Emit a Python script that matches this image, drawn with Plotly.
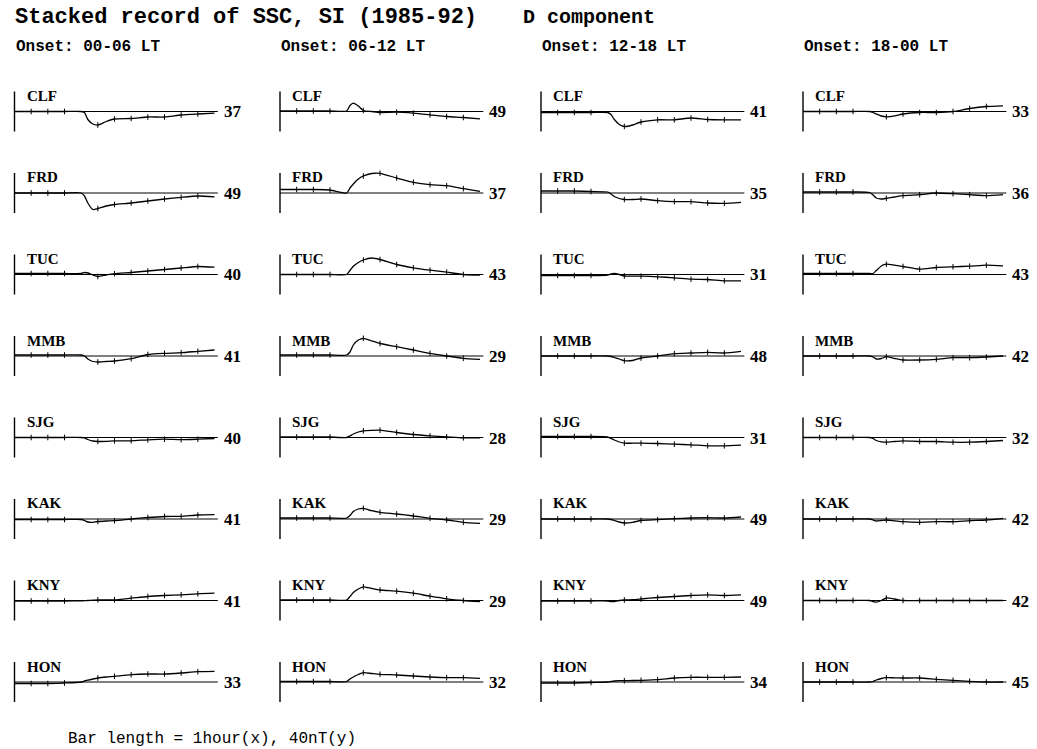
import plotly.graph_objects as go

# ---- data -------------------------------------------------------------
STATIONS = ["CLF", "FRD", "TUC", "MMB", "SJG", "KAK", "KNY", "HON"]
ONSET_LT = ["00-06", "06-12", "12-18", "18-00"]

# minutes relative to SSC onset
T_MIN = [-40, -30, -20, -10, 0, 2, 4, 7, 10, 15, 20, 30, 40, 50, 60, 70, 80]
TICK_MIN = [-30, -20, -10, 10, 20, 30, 40, 50, 60, 70]

# stacked D-component deviation (nT), one list per station
D_00_06 = [
    [0, 0, 0, 0, 0, -1, -8, -12.5, -13.5, -10, -7.5, -7, -5.5, -5.5, -3.5, -2.5, -1.7],
    [0, 0, 0, 0, 0, -3, -10, -16.5, -15.5, -13, -11.5, -10, -8, -6, -4.3, -3, -3.8],
    [1, 1, 1, 1, 1, 2, 1.5, -0.5, -2, -0.5, 0.8, 2, 3.5, 5, 6.5, 8, 7.3],
    [1, 1, 1, 1, 1, 0, -3, -5.5, -6, -5.5, -5, -2.7, 1.5, 2.7, 3.3, 4.7, 6],
    [0, 0, 0, 0, 0, -0.5, -2, -3.5, -4, -3.8, -3.3, -3.3, -2.3, -1.7, -2.2, -1.7, -1],
    [-0.5, -0.5, -0.5, -0.5, -0.5, -1.5, -3, -3.3, -2.5, -2, -1.7, 0, 1.5, 2.5, 2.7, 4, 4.3],
    [-0.5, -0.5, -0.5, -0.5, -0.3, -0.2, 0, 0.3, 0.7, 0.7, 0.7, 2.3, 4, 5, 5.7, 6.7, 7.3],
    [-1.5, -1.5, -1.5, -1, 0, 1, 1.8, 3, 4, 5, 5.7, 7.3, 8, 8, 9, 10.3, 10.7],
]
D_06_12 = [
    [0.5, 0.5, 0.5, 0.5, 0.5, 6, 8.3, 5.5, 1, 0, -1, -0.7, -1.7, -3.3, -5, -6, -7.3],
    [3.5, 3.5, 3.5, 3, 0, 5, 9, 14, 17, 19.5, 19.7, 15, 10.7, 8.3, 7.3, 4.3, 1.7],
    [0, 0, 0, 0, 0, 4, 8.3, 12, 14.5, 16.5, 15, 10, 6.7, 4.3, 2.3, 0, -0.7],
    [1, 1, 1, 1, 1, 4, 11, 16, 17.7, 15, 12.5, 9.3, 6, 2.7, 0, -2.3, -3.3],
    [0.5, 0.5, 0.5, 0.5, 0, 1.5, 3.5, 5.5, 6.7, 7.2, 7.3, 5, 3, 1.7, 0.7, -0.3, -0.3],
    [1, 1, 1, 1, 1, 3.5, 7.5, 10, 10.7, 8.3, 6.7, 5, 3, 0.7, -1, -3.3, -4.3],
    [0.5, 0.5, 0.5, 0.5, 0.5, 4, 8, 11.5, 13.7, 12, 10.5, 9.3, 7.3, 4.3, 1.7, 0, -1],
    [0.5, 0.5, 0.5, 0.5, 0.5, 3, 5, 7.5, 9.3, 8.5, 7.7, 7, 6, 5, 4.3, 4.3, 3.7],
]
D_12_18 = [
    [-1, -1, -1, -1, -1, -3, -8, -13, -15, -13.5, -10.5, -8.3, -8.3, -6.5, -8, -8.3, -8.3],
    [2, 2, 2, 1.5, 1, -1, -3.5, -5.5, -6.5, -6.5, -6, -7.7, -8.7, -8.7, -10, -10.3, -9.3],
    [-1, -1, -1, -1, -0.5, 0.5, 1, 0, -1.5, -1.7, -1.7, -2.3, -3.3, -4.7, -5, -6.3, -6.3],
    [0, 0, 0, 0, 0, -0.5, -1.5, -3, -4.7, -4.5, -2, 0, 2.3, 3, 3.7, 3, 4.7],
    [1, 1, 1, 1, 0.5, -1, -2.5, -4.5, -5.7, -5.7, -5.7, -6, -6.7, -7.3, -8.3, -8.3, -7.7],
    [0, 0, 0, 0, 0, -0.5, -1.5, -3, -4, -3.3, -1.5, -0.7, 0.3, 1, 1.3, 1, 2],
    [-0.5, -0.5, -0.5, -0.5, -0.5, -1, -1, 0, 0.5, 0.8, 1.5, 3, 4, 5, 5.7, 5, 5.7],
    [-1, -1, -1, -0.5, 0, 0.5, 1, 1.3, 1.3, 1.5, 1.7, 2.3, 4, 4.7, 4.7, 4.7, 5],
]
D_18_00 = [
    [0, 0, 0, 0, 0, -1, -2.5, -4.5, -5.3, -4.3, -2.5, -1, -1, 0, 3, 5, 5.7],
    [1, 1, 1, 1, 0.5, -2, -5, -6, -5.3, -4, -2.7, -1.7, 0, -0.7, -1.7, -2.7, -1.7],
    [1, 1, 1, 1, 1, 1, 4, 8.5, 10.3, 9.3, 8, 5.3, 7, 7.7, 8.3, 9.3, 8.7],
    [0, 0, 0, 0, 0, -1, -3, -2.5, -0.7, -2.5, -4, -4, -3.3, -1.7, -1.7, -1, 0],
    [0, 0, 0, 0, 0, -1, -3, -4.3, -4.7, -4, -3.3, -4, -4, -4.7, -4.7, -4, -3],
    [0, 0, 0, 0, 0, -1, -2, -1.5, -1, -1.8, -2.7, -3.3, -2.7, -2.7, -1.7, -1, 0.7],
    [0, 0, 0, 0, 0, -1, -1.7, 0, 2.5, 1.5, 0, 0, 0, 0, 0, 0, 0],
    [0, 0, 0, 0, 0, 0.5, 2, 3.5, 4.3, 4.2, 4, 4, 2.7, 1.7, 0.7, 0, 0],
]

# number of events stacked at each station
N_00_06 = [37, 49, 40, 41, 40, 41, 41, 33]
N_06_12 = [49, 37, 43, 29, 28, 29, 29, 32]
N_12_18 = [41, 35, 31, 48, 31, 49, 49, 34]
N_18_00 = [33, 36, 43, 42, 32, 42, 42, 45]

SCALE_BAR_NT = 40
BASELINE_END_MIN = 82

COLUMNS = [(D_00_06, N_00_06), (D_06_12, N_06_12),
           (D_12_18, N_12_18), (D_18_00, N_18_00)]

# ---- page geometry (pixels) ---------------------------------------------
W, H = 1037, 749
BAR_PX = [14.5, 280, 541, 803]      # left edge (scale bar) of each column
ROW0_PX, ROW_STEP = 111.5, 81.5     # zero line of first row, row spacing
PX_PER_MIN = 5 / 3
PAD_L, PAD_R, HALF_H = 5, 215, 30   # panel extent around the scale bar

SERIF = "Liberation Serif"
MONO = "Liberation Mono"

fig = go.Figure()
layout_axes = {}
annotations = []

for c, (series, counts) in enumerate(COLUMNS):
    for r, station in enumerate(STATIONS):
        n = r * 4 + c + 1
        xa, ya = f"x{n}", f"y{n}"
        base = ROW0_PX + r * ROW_STEP
        x0_min = T_MIN[0] - PAD_L / PX_PER_MIN
        x1_min = T_MIN[0] + PAD_R / PX_PER_MIN
        layout_axes[f"xaxis{n}"] = dict(
            domain=[(BAR_PX[c] - PAD_L) / W, (BAR_PX[c] + PAD_R) / W],
            range=[x0_min, x1_min], visible=False, anchor=ya, fixedrange=True)
        layout_axes[f"yaxis{n}"] = dict(
            domain=[1 - (base + HALF_H) / H, 1 - (base - HALF_H) / H],
            range=[-HALF_H, HALF_H], visible=False, anchor=xa, fixedrange=True)

        vals = series[r]
        # zero reference line
        fig.add_trace(go.Scatter(
            x=[T_MIN[0], BASELINE_END_MIN], y=[0, 0], xaxis=xa, yaxis=ya,
            mode="lines", line=dict(color="black", width=1),
            hoverinfo="skip", showlegend=False))
        # 40 nT scale bar
        fig.add_trace(go.Scatter(
            x=[T_MIN[0], T_MIN[0]], y=[-SCALE_BAR_NT / 2, SCALE_BAR_NT / 2],
            xaxis=xa, yaxis=ya, mode="lines",
            line=dict(color="black", width=1.4),
            hoverinfo="skip", showlegend=False))
        # stacked record
        fig.add_trace(go.Scatter(
            x=T_MIN, y=vals, xaxis=xa, yaxis=ya, mode="lines",
            line=dict(color="black", width=1.3, shape="spline", smoothing=0.6),
            name=f"{station} {ONSET_LT[c]} LT", showlegend=False))
        # 10-minute tick marks on the record
        tx = [t for t in T_MIN if t in TICK_MIN]
        ty = [v for t, v in zip(T_MIN, vals) if t in TICK_MIN]
        fig.add_trace(go.Scatter(
            x=tx, y=ty, xaxis=xa, yaxis=ya, mode="markers",
            marker=dict(symbol="line-ns", size=4, color="black",
                        line=dict(color="black", width=1)),
            hoverinfo="skip", showlegend=False))

        annotations.append(dict(
            x=T_MIN[0] + 10 / PX_PER_MIN, y=15.5, xref=xa, yref=ya,
            text=f"<b>{station}</b>", showarrow=False,
            xanchor="left", yanchor="middle",
            font=dict(family=SERIF, size=15, color="black")))
        annotations.append(dict(
            x=T_MIN[0] + 207 / PX_PER_MIN, y=-0.5, xref=xa, yref=ya,
            text=f"<b>{counts[r]}</b>", showarrow=False,
            xanchor="left", yanchor="middle",
            font=dict(family=SERIF, size=17, color="black")))

    annotations.append(dict(
        x=(BAR_PX[c] - 1) / W, y=1 - 47 / H, xref="paper", yref="paper",
        text=f"<b>Onset: {ONSET_LT[c]} LT</b>", showarrow=False,
        xanchor="left", yanchor="middle",
        font=dict(family=MONO, size=16, color="black")))

annotations.append(dict(
    x=13 / W, y=1 - 18 / H, xref="paper", yref="paper",
    text="<b>Stacked record of SSC, SI (1985-92)</b>", showarrow=False,
    xanchor="left", yanchor="middle",
    font=dict(family=MONO, size=22, color="black")))
annotations.append(dict(
    x=521 / W, y=1 - 18 / H, xref="paper", yref="paper",
    text="<b>D component</b>", showarrow=False,
    xanchor="left", yanchor="middle",
    font=dict(family=MONO, size=20, color="black")))
annotations.append(dict(
    x=66 / W, y=1 - 739 / H, xref="paper", yref="paper",
    text="Bar length = 1hour(x), 40nT(y)", showarrow=False,
    xanchor="left", yanchor="middle",
    font=dict(family=MONO, size=16, color="black")))

fig.update_layout(
    width=W, height=H,
    margin=dict(l=0, r=0, t=0, b=0),
    paper_bgcolor="white", plot_bgcolor="rgba(0,0,0,0)",
    showlegend=False, annotations=annotations,
    **layout_axes)

fig.write_html("out.html", config={"displayModeBar": False})
